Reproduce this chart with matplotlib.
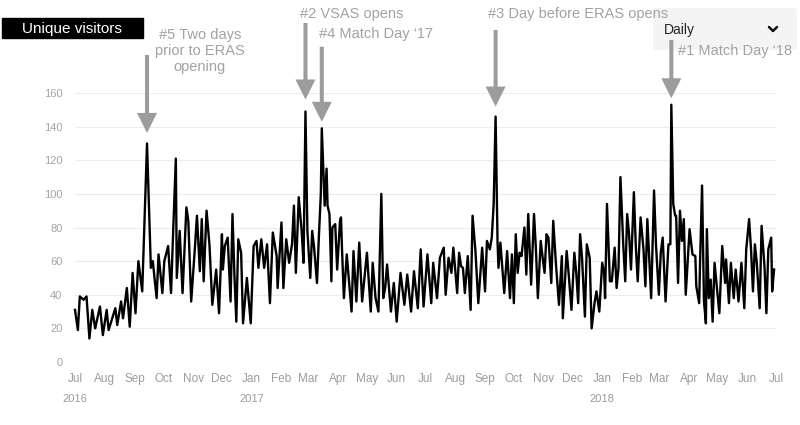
import numpy as np
import matplotlib
matplotlib.use("Agg")
import matplotlib.pyplot as plt
import matplotlib.dates as mdates
from matplotlib.patches import FancyBboxPatch, Rectangle

plt.rcParams['font.family'] = ['Liberation Sans', 'DejaVu Sans']

start_date = np.datetime64('2016-07-01')
end_date = np.datetime64('2018-07-01')

# days since 2016-07-01 and unique visitor counts (turning points)
day_offsets = [
    0, 3, 5, 9, 12, 15, 18, 21, 26, 29, 33, 35, 42, 44, 48, 50, 54, 57, 60, 63,
    66, 70, 75, 79, 81, 85, 87, 91, 93, 97, 100, 102, 105, 106, 109, 112, 116, 118, 121, 125,
    127, 130, 132, 134, 137, 140, 143, 147, 150, 153, 154, 156, 159, 162, 164, 166, 168, 170, 173, 175,
    179, 183, 186, 189, 191, 194, 197, 200, 203, 206, 210, 211, 215, 217, 220, 223, 226, 228, 230, 233,
    236, 238, 240, 242, 245, 247, 249, 252, 254, 256, 257, 260, 262, 263, 265, 267, 268, 271, 273, 276,
    277, 278, 280, 283, 288, 290, 293, 296, 299, 304, 308, 310, 313, 316, 319, 321, 323, 325, 329, 332,
    335, 339, 343, 346, 350, 353, 357, 360, 363, 367, 371, 373, 377, 380, 384, 386, 389, 392, 394, 398,
    400, 402, 404, 406, 409, 412, 414, 417, 420, 424, 427, 429, 432, 434, 436, 438, 440, 441, 443, 447,
    450, 453, 455, 457, 459, 461, 463, 465, 468, 470, 472, 475, 478, 480, 482, 485, 487, 489, 491, 493,
    496, 498, 501, 504, 507, 508, 512, 514, 517, 520, 522, 524, 526, 528, 531, 533, 536, 538, 541, 543,
    546, 549, 551, 552, 554, 557, 559, 562, 564, 566, 568, 571, 573, 575, 577, 579, 582, 584, 586, 589,
    592, 594, 596, 600, 603, 605, 608, 610, 612, 615, 618, 620, 621, 623, 625, 626, 628, 630, 632, 634,
    636, 640, 643, 646, 647, 650, 651, 653, 655, 657, 658, 660, 662, 664, 666, 671, 674, 677, 678, 681,
    683, 686, 688, 691, 694, 697, 699, 702, 704, 706, 708, 710, 713, 715, 718, 720, 722, 725, 726, 728,
]
visitors = [
    31, 19, 39, 37, 39, 14, 31, 20, 33, 16, 31, 19, 32, 22, 36, 26, 44, 21, 53, 29,
    60, 42, 130, 56, 60, 38, 64, 41, 60, 69, 41, 74, 121, 50, 78, 41, 92, 84, 36, 69,
    87, 54, 85, 48, 90, 70, 34, 55, 29, 76, 55, 69, 74, 36, 88, 52, 24, 73, 65, 23,
    50, 23, 69, 72, 56, 73, 56, 70, 35, 77, 63, 44, 83, 44, 73, 59, 70, 93, 53, 98,
    78, 59, 149, 78, 50, 78, 68, 47, 75, 100, 139, 93, 115, 93, 88, 48, 80, 82, 55, 84,
    86, 68, 38, 64, 30, 66, 36, 71, 36, 65, 30, 59, 38, 30, 100, 38, 44, 58, 30, 47,
    24, 53, 34, 52, 30, 54, 32, 67, 33, 64, 35, 59, 38, 62, 68, 40, 62, 53, 68, 41,
    65, 57, 56, 41, 63, 31, 87, 66, 35, 68, 42, 72, 67, 74, 94, 146, 72, 56, 71, 41,
    66, 38, 64, 35, 76, 53, 65, 63, 80, 52, 88, 46, 88, 67, 38, 72, 62, 53, 76, 74,
    47, 84, 57, 34, 63, 26, 66, 53, 31, 65, 53, 35, 76, 62, 27, 70, 62, 20, 35, 42,
    30, 59, 53, 38, 94, 48, 48, 68, 44, 56, 110, 69, 48, 88, 76, 55, 101, 69, 48, 86,
    67, 45, 85, 38, 102, 70, 40, 65, 74, 36, 70, 70, 153, 94, 87, 87, 47, 90, 72, 85,
    40, 79, 64, 63, 45, 35, 61, 105, 36, 23, 79, 38, 49, 24, 59, 29, 69, 47, 61, 35,
    59, 38, 55, 36, 59, 32, 67, 85, 67, 42, 70, 59, 32, 81, 57, 29, 67, 74, 42, 55,
]

y_ticks = [0, 20, 40, 60, 80, 100, 120, 140, 160]
year_labels = ['2016', '2017', '2018']
year_dates = ['2016-07-01', '2017-01-01', '2018-01-01']

# annotations: (day of peak, label)
peak_days = [75, 240, 257, 438, 621]
peak_labels = ["#5 Two days\nprior to ERAS\nopening", "#2 VSAS opens",
               "#4 Match Day \u201817", "#3 Day before ERAS opens", "#1 Match Day \u201818"]

dates = start_date + np.array(day_offsets).astype('timedelta64[D]')

fig = plt.figure(figsize=(8, 4.25), dpi=100)
fig.patch.set_facecolor('white')

# overlay for header decorations (pixel coordinates, origin top-left)
ov = fig.add_axes([0, 0, 1, 1], zorder=0)
ov.set_xlim(0, 800)
ov.set_ylim(425, 0)
ov.axis('off')

ax = fig.add_axes([75 / 800, (425 - 362) / 425, 701 / 800, (362 - 93) / 425], zorder=1)
ax.patch.set_alpha(0)

ax.plot(dates, visitors, color='black', lw=1.7, clip_on=False, solid_joinstyle='round')
ax.set_xlim(start_date, end_date)
ax.set_ylim(0, 160)
ax.set_yticks(y_ticks)
ax.grid(axis='y', color='#ececec', lw=0.8)
ax.set_axisbelow(True)
for s in ax.spines.values():
    s.set_visible(False)
ax.xaxis.set_major_locator(mdates.MonthLocator())
ax.xaxis.set_major_formatter(mdates.DateFormatter('%b'))
ax.tick_params(axis='y', length=0, colors='#a4a4a4', labelsize=8, pad=9)
ax.tick_params(axis='x', length=0, colors='#9c9c9c', labelsize=8.5, pad=8)

for lab, d in zip(year_labels, year_dates):
    ax.annotate(lab, xy=(mdates.date2num(np.datetime64(d)), 0), xycoords=('data', 'axes fraction'),
                xytext=(0, -37 * 0.72), textcoords='offset points', ha='center', va='center',
                fontsize=8, color='#9c9c9c', annotation_clip=False)

# arrows pointing at peaks
gaps_px = [10.5, 12, 6.5, 10, 6.5]
lens_px = [88.5, 88.5, 81.6, 86.6, 64.8]
for d, g, L in zip(peak_days, gaps_px, lens_px):
    i = day_offsets.index(d)
    xnum = mdates.date2num(dates[i])
    ax.annotate('', xy=(xnum, visitors[i]), xytext=(0, L * 0.72), textcoords='offset points',
                arrowprops=dict(arrowstyle='simple,head_length=14.4,head_width=14.4,tail_width=2.9',
                                mutation_scale=1, shrinkA=0, shrinkB=g * 0.72,
                                color='#9c9c9c', lw=0),
                annotation_clip=False)

# header elements
ov.add_patch(Rectangle((2, 18), 141, 20, color='black'))
ov.text(72, 28.5, 'Unique visitors', color='white', fontsize=11, ha='center', va='center')
ov.add_patch(FancyBboxPatch((653, 8), 144, 42, boxstyle='round,pad=0,rounding_size=3',
                            fc='#f4f4f4', ec='none'))
ov.text(664, 30, 'Daily', color='#222222', fontsize=10, ha='left', va='center')
ov.plot([769, 773, 777], [27, 31, 27], color='#111111', lw=1.8, solid_capstyle='round',
        solid_joinstyle='round')

txt_color = '#a2a2a2'
label_pos = [(200, 51, 'center'), (300, 14, 'left'), (319, 34, 'left'), (488, 14, 'left'), (678, 51, 'left')]
for lab, (x, y, ha) in zip(peak_labels, label_pos):
    ov.text(x, y, lab, color=txt_color, fontsize=10.5, ha=ha, va='center', linespacing=1.2)

fig.savefig('out.png', dpi=100, facecolor='white')
